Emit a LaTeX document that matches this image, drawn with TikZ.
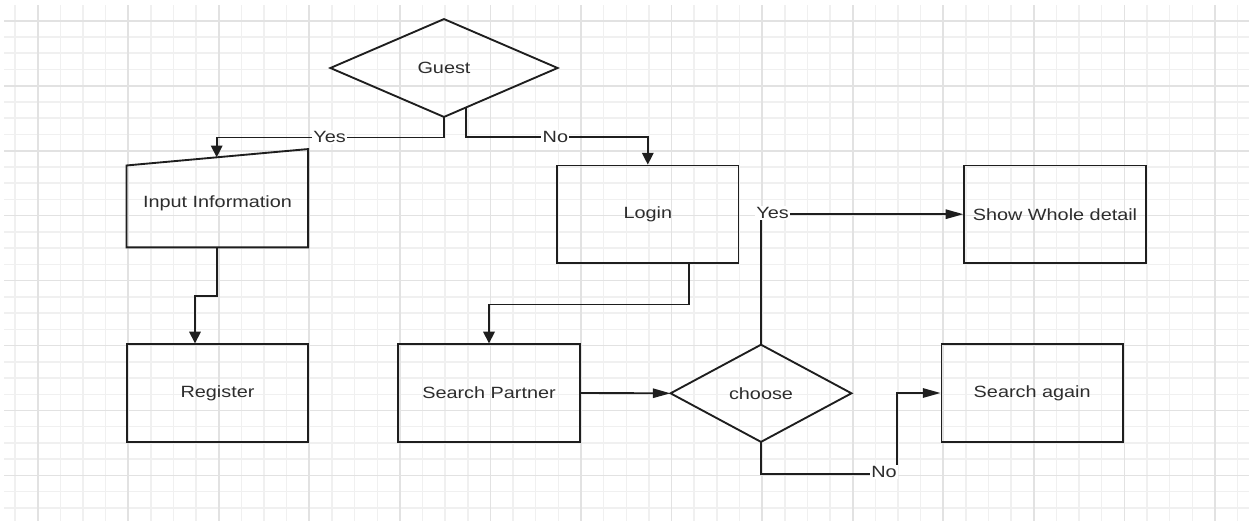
\documentclass[tikz,border=0pt]{standalone}
\usepackage{fontspec}
\setmainfont{Liberation Sans}
\usepackage{graphicx}
\usetikzlibrary{arrows.meta,calc}
\newcommand\wtx[1]{\scalebox{1.22}[1]{#1}}
\definecolor{gminor}{RGB}{240,240,240}
\definecolor{gmajor}{RGB}{226,226,226}
\definecolor{ink}{RGB}{30,30,30}
\definecolor{txt}{RGB}{45,45,45}
\begin{document}
\begin{tikzpicture}[x=0.75pt,y=-0.75pt,
  gmin/.style={draw=gminor,line width=1.1pt},
  gmaj/.style={draw=gmajor,line width=1.3pt},
  tfont/.style={text=txt,font=\fontsize{12.2pt}{14pt}\selectfont},
  box/.style={draw=ink,line width=1.4pt,rectangle,minimum width=136pt,minimum height=73pt,inner sep=0pt,tfont},
  hold/.style={rectangle,inner sep=0pt,tfont},
  conn/.style={draw=ink,line width=1.4pt},
  va/.style={-{Triangle[length=8.8pt,width=8.6pt]}},
  ha/.style={-{Triangle[length=13.3pt,width=7pt]}},
  lbl/.style={fill=white,inner sep=1pt,tfont}]
% background and bounding box
\fill[white] (0,0) rectangle (1249,521);
\useasboundingbox (0,0) rectangle (1249,521);
% grid
\foreach \k in {0,...,54} \draw[gmin] ({15+22.64*\k},5) -- ({15+22.64*\k},521);
\foreach \k in {1,...,31} \draw[gmin] (4,{4.5+16.24*\k}) -- (1249,{4.5+16.24*\k});
\foreach \k in {1,5,...,53} \draw[gmaj] ({15+22.64*\k},5) -- ({15+22.64*\k},521);
\foreach \k in {1,5,...,29} \draw[gmaj] (4,{4.5+16.24*\k}) -- (1249,{4.5+16.24*\k});
% decision Guest
\node[hold,minimum width=170pt,minimum height=73pt] (g) at (444,68) {\wtx{Guest}};
\draw[conn] (g.west) -- (g.north) -- (g.east) -- (g.south) -- cycle;
% manual input
\node[hold,minimum width=135.75pt,minimum height=73.3pt] (inp) at (217.3,198.2) {};
\coordinate (inptl) at ($(inp.north west)+(0,16.4)$);
\draw[conn] (inp.south west) -- (inp.south east) -- (inp.north east) -- (inptl) -- cycle;
\coordinate (inptop) at ($(inptl)!0.4967!(inp.north east)$);
\node[hold] (inptxt) at (217.5,203) {\wtx{Input Information}};
% boxes
\node[box] (login) at (647.8,214.2) {\wtx{Login}};
\node[box] (show) at (1055,214.2) {\wtx{Show Whole detail}};
\node[box] (reg) at (217.5,393) {\wtx{Register}};
\node[box] (sp) at (489,393) {\wtx{Search Partner}};
\node[box] (sa) at (1032.2,393) {\wtx{Search again}};
% decision choose
\node[hold,minimum width=135.3pt,minimum height=72.5pt] (ch) at (761,393.3) {\wtx{choose}};
\draw[conn] (ch.west) -- (ch.north) -- (ch.east) -- (ch.south) -- cycle;
% connectors
\coordinate (gno) at ($(g.south)!0.193!(g.east)$);
\draw[conn,va] (g.south) -- ++(0,20.6) -| (inptop);
\node[lbl] (yes1) at (329.6,137.3) {\wtx{Yes}};
\draw[conn,va] (gno) -- ++(0,29.9) -| (login.north);
\node[lbl] (no1) at (555.4,137.3) {\wtx{No}};
\draw[conn,va] (inp.south) -- ++(0,48.3) -| ($(reg.north)+(-22.5,0)$);
\draw[conn,va] ($(login.south)+(41,0)$) -- ++(0,40.7) -| (sp.north);
\draw[conn,ha] (sp.east) -- (ch.west);
\draw[conn,ha] (ch.north) |- (show.west);
\node[lbl] (yes2) at (772.5,213) {\wtx{Yes}};
\coordinate (nc) at (896.7,474);
\draw[conn,ha] (ch.south) |- (nc) |- (sa.west);
\node[lbl] (no2) at (884,472) {\wtx{No}};
\end{tikzpicture}
\end{document}
